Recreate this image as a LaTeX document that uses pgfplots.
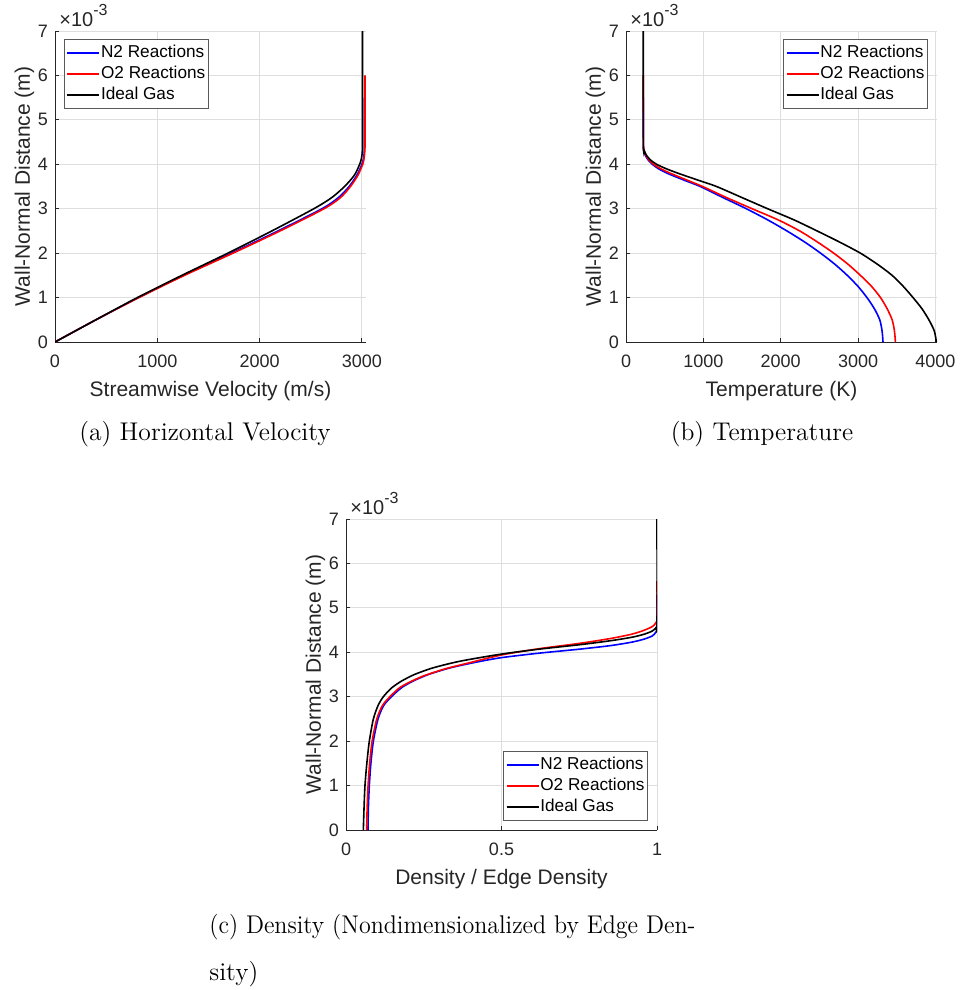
\documentclass[border=0pt]{standalone}
\usepackage{fontspec}
\newfontfamily\arial{Liberation Sans}
\usepackage{graphicx}
\usepackage{pgfplots}
\pgfplotsset{compat=1.18}

\definecolor{axgray}{RGB}{38,38,38}
\definecolor{gridgray}{RGB}{222,222,222}
\definecolor{leggray}{RGB}{90,90,90}

\pgfplotsset{
  matlab/.style={
    scale only axis, width=155.5pt, height=155.5pt,
    axis lines=left, axis line style={-, axgray, line width=0.45pt},
    tick align=inside, major tick length=2pt, tick style={axgray, line width=0.45pt},
    grid=major, grid style={gridgray, line width=0.45pt},
    ymin=0, ymax=7, ytick={0,1,...,7},
    scaled ticks=false,
    /pgf/number format/1000 sep={},
    /pgf/number format/assume math mode=true,
    tick label style={font=\fontsize{9}{10}\arial, text=axgray},
    xticklabel style={yshift=-3pt},
    label style={font=\fontsize{10.5}{12}\arial, text=axgray},
    ylabel={Wall-Normal Distance (m)}, ylabel shift=-5pt,
    legend cell align=left,
    legend style={font=\fontsize{8.6}{10}\arial, draw=leggray, line width=0.45pt,
      inner xsep=1pt, inner ysep=1.5pt, row sep=0pt,
      nodes={inner xsep=0.5pt, inner ysep=0.5pt, text height=7pt, text depth=2.5pt}},
    legend image code/.code={\draw[#1, line width=0.8pt] (0pt,0pt) -- (16pt,0pt);},
    every axis plot/.append style={line width=0.8pt, smooth, tension=0.45},
    after end axis/.code={\node[anchor=base west, font=\fontsize{10}{11}\arial, text=axgray, inner sep=0pt]
      at (rel axis cs:0,1) [xshift=2pt, yshift=2.5pt] {×10\raisebox{1.0ex}{\fontsize{8}{9}\selectfont -3}};},
  },
  n2/.style={color={rgb,1:red,0;green,0;blue,1}},
  o2/.style={color={rgb,1:red,1;green,0;blue,0}},
  ig/.style={color=black},
}

\begin{document}
\begin{tikzpicture}
\useasboundingbox (0,0) rectangle (480.5pt,-495pt);

% (a) streamwise velocity
\begin{axis}[matlab, at={(27.5pt,-171pt)}, anchor=south west,
  xmin=0, xmax=3040, xtick={0,1000,2000,3000},
  xlabel={Streamwise Velocity (m/s)},
  legend style={at={(0,1)}, anchor=north west, xshift=4.5pt, yshift=-4pt}]
\addplot[n2] coordinates {
  (0,0) (400,0.5) (815,1.0) (1255,1.5) (1725,2.0) (2180,2.5) (2610,3.0) (2770,3.25)
  (2875,3.5) (2950,3.75) (3000,4.0) (3017,4.15) (3024,4.3) (3025,4.5) (3025,5.5)};
\addplot[o2] coordinates {
  (0,0) (400,0.5) (820,1.0) (1265,1.5) (1740,2.0) (2200,2.5) (2630,3.0) (2790,3.25)
  (2888,3.5) (2960,3.75) (3008,4.0) (3022,4.15) (3028,4.3) (3030,4.5) (3030,6.0)};
\addplot[ig] coordinates {
  (0,0) (400,0.5) (805,1.0) (1240,1.5) (1690,2.0) (2120,2.5) (2530,3.0) (2705,3.25)
  (2830,3.5) (2925,3.75) (2978,4.0) (2997,4.15) (3004,4.3) (3006,4.5) (3006,7.0)};
\legend{N2 Reactions, O2 Reactions, Ideal Gas}
\end{axis}

% (b) temperature
\begin{axis}[matlab, at={(313pt,-171pt)}, anchor=south west,
  xmin=0, xmax=4020, xtick={0,1000,2000,3000,4000},
  xlabel={Temperature (K)},
  legend style={at={(1,1)}, anchor=north east, xshift=-4.5pt, yshift=-4pt}]
\addplot[n2] coordinates {
  (3322,0) (3310,0.25) (3280,0.5) (3210,0.75) (3115,1.0) (3000,1.25) (2860,1.5) (2700,1.75)
  (2515,2.0) (2310,2.25) (2080,2.5) (1830,2.75) (1555,3.0) (1255,3.25) (960,3.5) (740,3.65)
  (530,3.8) (420,3.9) (340,4.0) (285,4.1) (250,4.2) (232,4.3) (224,4.45) (223,5.5)};
\addplot[o2] coordinates {
  (3482,0) (3470,0.25) (3440,0.5) (3375,0.75) (3290,1.0) (3175,1.25) (3030,1.5) (2870,1.75)
  (2685,2.0) (2475,2.25) (2245,2.5) (1965,2.75) (1630,3.0) (1300,3.25) (990,3.5) (780,3.65)
  (570,3.8) (450,3.9) (355,4.0) (295,4.1) (258,4.2) (236,4.3) (225,4.45) (223,6.0)};
\addplot[ig] coordinates {
  (4012,0) (3985,0.25) (3915,0.5) (3825,0.75) (3710,1.0) (3585,1.25) (3440,1.5) (3250,1.75)
  (3030,2.0) (2760,2.25) (2470,2.5) (2170,2.75) (1830,3.0) (1500,3.25) (1170,3.5) (920,3.65)
  (670,3.8) (520,3.9) (395,4.0) (315,4.1) (266,4.2) (238,4.3) (225,4.45) (223,7.0)};
\legend{N2 Reactions, O2 Reactions, Ideal Gas}
\end{axis}

% (c) density
\begin{axis}[matlab, at={(173pt,-415pt)}, anchor=south west,
  xmin=0, xmax=1, xtick={0,0.5,1},
  xlabel={Density / Edge Density},
  legend style={at={(1,0)}, anchor=south east, xshift=-4.5pt, yshift=4.5pt}]
\addplot[n2] coordinates {
  (0.0707,0) (0.072,0.5) (0.075,1.0) (0.080,1.5) (0.088,2.0) (0.103,2.5) (0.121,2.8) (0.146,3.0)
  (0.178,3.2) (0.215,3.35) (0.265,3.5) (0.335,3.65) (0.42,3.78) (0.50,3.88) (0.62,3.98) (0.75,4.07)
  (0.85,4.15) (0.92,4.23) (0.96,4.3) (0.985,4.37) (0.996,4.45) (1.0,4.55) (1.0,5.3)};
\addplot[o2] coordinates {
  (0.0665,0) (0.068,0.5) (0.071,1.0) (0.076,1.5) (0.084,2.0) (0.099,2.5) (0.117,2.8) (0.141,3.0)
  (0.172,3.2) (0.205,3.33) (0.25,3.47) (0.32,3.63) (0.40,3.77) (0.50,3.94) (0.62,4.08) (0.75,4.2)
  (0.85,4.31) (0.92,4.41) (0.96,4.5) (0.985,4.58) (0.996,4.66) (1.0,4.78) (1.0,5.6)};
\addplot[ig] coordinates {
  (0.0557,0) (0.058,0.5) (0.061,1.0) (0.067,1.5) (0.075,2.0) (0.088,2.5) (0.103,2.8) (0.120,3.0)
  (0.147,3.2) (0.178,3.35) (0.22,3.5) (0.28,3.65) (0.367,3.8) (0.50,3.96) (0.62,4.07) (0.75,4.17)
  (0.85,4.26) (0.92,4.34) (0.96,4.41) (0.985,4.48) (0.996,4.55) (1.0,4.65) (1.0,7.0)};
\legend{N2 Reactions, O2 Reactions, Ideal Gas}
\end{axis}

% captions
\node[anchor=base, font=\fontsize{12.8}{15}\selectfont, inner sep=0pt] at (102.5pt,-220pt) {(a) Horizontal Velocity};
\node[anchor=base, font=\fontsize{12.8}{15}\selectfont, inner sep=0pt] at (381pt,-220pt) {(b) Temperature};
\node[anchor=base west, font=\fontsize{12.8}{15}\selectfont, inner sep=0pt] at (104.5pt,-466.5pt)
  {\resizebox{243pt}{\height}{(c) Density (Nondimensionalized by Edge Den-}};
\node[anchor=base west, font=\fontsize{12.8}{15}\selectfont, inner sep=0pt] at (104.5pt,-490pt) {sity)};
\end{tikzpicture}
\end{document}
